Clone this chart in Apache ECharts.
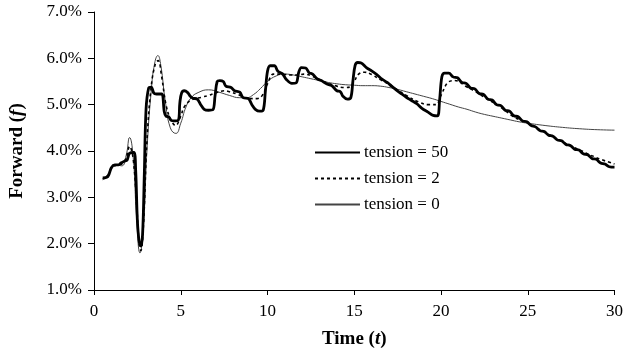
<!DOCTYPE html>
<html><head><meta charset="utf-8">
<script src="https://cdn.jsdelivr.net/npm/echarts@6/dist/echarts.min.js"></script>
<style>html,body{margin:0;padding:0;background:#fff}#c{width:626px;height:354px}</style>
</head><body><div id="c"></div>
<script>
// tension = 50
const t50x = [0.5,0.8,1.0,1.2,1.4,1.55,1.75,1.9,2.05,2.3,2.4,2.5,2.6,2.7,2.8,2.9,3.0,3.15,3.3,3.45,3.6,3.9,4.05,4.15,4.3,4.45,4.6,4.85,4.95,5.05,5.2,5.4,5.55,5.7,5.95,6.15,6.35,6.6,6.85,6.98,7.1,7.25,7.45,7.6,7.9,8.1,8.4,8.6,8.9,9.1,9.3,9.55,9.75,9.88,10.0,10.15,10.4,10.6,10.85,11.1,11.4,11.65,11.8,11.95,12.2,12.4,12.6,12.85,13.1,13.4,13.7,14.0,14.2,14.35,14.6,14.8,14.92,15.05,15.2,15.4,15.7,16.0,16.3,16.6,16.9,17.15,17.45,17.7,18.0,18.3,18.6,18.9,19.25,19.55,19.8,19.92,20.05,20.2,20.45,20.7,20.95,21.2,21.45,21.7,21.95,22.2,22.45,22.7,22.95,23.2,23.45,23.7,23.95,24.2,24.45,24.7,24.95,25.2,25.45,25.7,25.95,26.2,26.45,26.7,26.95,27.2,27.45,27.7,27.95,28.2,28.45,28.7,28.95,29.2,29.45,29.7,30.0];
const t50y = [3.42,3.45,3.64,3.70,3.70,3.74,3.78,3.80,3.95,3.97,3.6,2.5,2.05,1.95,2.2,3.5,4.9,5.36,5.38,5.25,5.23,5.23,4.85,4.75,4.74,4.66,4.65,4.66,5.05,5.25,5.30,5.26,5.18,5.14,5.12,5.0,4.9,4.88,4.89,5.2,5.5,5.52,5.50,5.40,5.37,5.30,5.27,5.15,5.13,5.0,4.90,4.86,4.88,5.3,5.72,5.84,5.84,5.72,5.67,5.54,5.46,5.47,5.7,5.8,5.79,5.69,5.66,5.56,5.52,5.45,5.41,5.30,5.28,5.18,5.12,5.15,5.5,5.85,5.91,5.90,5.80,5.73,5.65,5.55,5.48,5.40,5.31,5.24,5.16,5.09,5.02,4.92,4.84,4.77,4.76,5.1,5.6,5.68,5.68,5.60,5.58,5.48,5.46,5.36,5.34,5.24,5.22,5.12,5.10,5.00,4.98,4.88,4.86,4.76,4.74,4.65,4.63,4.55,4.52,4.44,4.42,4.34,4.32,4.24,4.22,4.14,4.12,4.04,4.02,3.94,3.92,3.84,3.82,3.74,3.72,3.66,3.65];
// tension = 2
const t2x = [0.5,0.8,1.0,1.3,1.6,1.85,2.05,2.25,2.45,2.6,2.7,2.85,3.05,3.3,3.55,3.7,3.9,4.15,4.4,4.7,5.0,5.2,5.6,6.2,6.6,7.0,7.5,7.8,8.3,8.8,9.4,9.7,10.0,10.35,10.8,11.3,11.8,12.1,12.55,13.0,13.5,14.0,14.4,14.75,15.0,15.25,15.6,16.0,16.5,17.0,17.5,18.0,18.7,19.25,19.7,20.0,20.4,20.8,21.5,22.0,22.5,23.0,23.5,24.1,24.5,25.0,25.5,26,27,28,29,30];
const t2y = [3.40,3.45,3.62,3.70,3.72,3.85,4.1,3.85,2.9,2.0,1.85,2.4,4.2,5.4,5.9,5.95,5.6,5.0,4.7,4.55,4.75,4.95,5.1,5.16,5.2,5.25,5.3,5.28,5.22,5.14,5.13,5.2,5.45,5.66,5.66,5.64,5.64,5.66,5.62,5.54,5.46,5.40,5.37,5.38,5.5,5.66,5.7,5.65,5.54,5.44,5.32,5.2,5.06,5.0,5.0,5.2,5.48,5.52,5.38,5.28,5.16,5.05,4.93,4.76,4.68,4.6,4.5,4.4,4.2,4.02,3.85,3.72];
// tension = 0
const t0x = [0.5,0.8,1.0,1.3,1.6,1.85,2.05,2.25,2.45,2.65,2.85,3.05,3.3,3.5,3.68,3.85,4.1,4.4,4.72,5.0,5.3,5.6,6.0,6.6,7.2,7.8,8.4,8.8,9.2,9.6,10.0,10.5,11.0,11.5,12,12.5,13,13.5,14,14.5,15,15.5,16,16.5,17,17.5,18,18.5,19,19.5,20,20.5,21,21.5,22,22.5,23,23.5,24,24.5,25,26,27,28,29,30];
const t0y = [3.38,3.50,3.63,3.70,3.68,3.9,4.29,3.9,2.6,1.8,2.4,4.0,5.3,5.9,6.06,5.85,5.1,4.5,4.38,4.6,4.95,5.15,5.26,5.32,5.27,5.2,5.15,5.15,5.22,5.35,5.5,5.62,5.66,5.64,5.6,5.56,5.52,5.48,5.45,5.43,5.42,5.41,5.41,5.40,5.37,5.33,5.28,5.23,5.18,5.13,5.07,5.01,4.95,4.9,4.84,4.79,4.75,4.71,4.67,4.63,4.6,4.55,4.51,4.48,4.46,4.45];
const names = ['tension = 50','tension = 2','tension = 0'];
const xTicks = {min:0, max:30, interval:5};
const yTicks = {min:1, max:7, interval:1};

const zip = (a,b)=>a.map((v,i)=>[v,b[i]]);
const font = 'Liberation Serif';
const nameRich = {
  b:{fontFamily:font,fontWeight:'bold',fontSize:19,color:'#000'},
  bi:{fontFamily:font,fontWeight:'bold',fontStyle:'italic',fontSize:19,color:'#000'}
};
const chart = echarts.init(document.getElementById('c'), null, {renderer:'canvas'});
chart.setOption({
  animation:false,
  backgroundColor:'#fff',
  textStyle:{fontFamily:font},
  grid:{left:92, right:9, top:12, bottom:59, containLabel:false},
  legend:{
    orient:'vertical', left:309, top:139, itemWidth:45, itemHeight:12, itemGap:9,
    itemStyle:{opacity:0},
    textStyle:{fontFamily:font, fontSize:17, color:'#000', padding:[0,0,0,-1]},
    data:names
  },
  xAxis:{
    type:'value', min:xTicks.min, max:xTicks.max, interval:xTicks.interval,
    name:'{b|Time (}{bi|t}{b|)}', nameLocation:'middle', nameGap:40,
    nameTextStyle:{rich:nameRich},
    axisLine:{lineStyle:{color:'#000',width:1}},
    axisTick:{show:true, inside:false, length:5, lineStyle:{color:'#000'}},
    axisLabel:{color:'#000', fontSize:17, fontFamily:font, margin:13},
    splitLine:{show:false}
  },
  yAxis:{
    type:'value', min:yTicks.min, max:yTicks.max, interval:yTicks.interval,
    name:'{b|Forward (}{bi|f}{b|)}', nameLocation:'middle', nameGap:67, nameRotate:90,
    nameTextStyle:{rich:nameRich},
    axisLine:{show:true, lineStyle:{color:'#000',width:1}},
    axisTick:{show:true, inside:false, length:6, lineStyle:{color:'#000'}},
    axisLabel:{color:'#000', fontSize:17, fontFamily:font, margin:12, formatter:v=>v.toFixed(1)+'%'},
    splitLine:{show:false}
  },
  series:[
    {name:names[0], type:'line', data:zip(t50x,t50y), symbol:'none', smooth:0.35, z:4,
     lineStyle:{color:'#000', width:2.8}, itemStyle:{color:'#000'}},
    {name:names[1], type:'line', data:zip(t2x,t2y), symbol:'none', smooth:0.4, z:3,
     lineStyle:{color:'#000', width:1.6, type:[3,3]}, itemStyle:{color:'#000'}},
    {name:names[2], type:'line', data:zip(t0x,t0y), symbol:'none', smooth:0.5, z:2,
     lineStyle:{color:'#444', width:1}, itemStyle:{color:'#444'}}
  ]
});
</script></body></html>
